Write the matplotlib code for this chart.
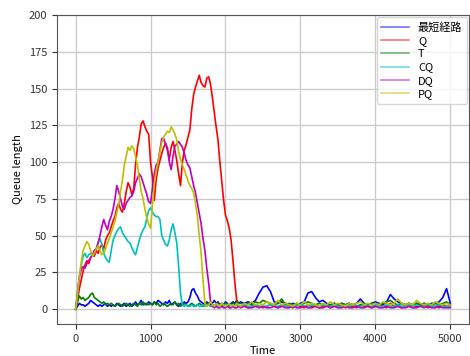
import numpy as np
import matplotlib
matplotlib.use('Agg')
import matplotlib.pyplot as plt

plt.rcParams['font.family'] = ['Noto Sans CJK JP', 'DejaVu Sans']

# sampled every 25 steps up to 2175, then every 50 steps
time = np.concatenate([np.arange(0, 2200, 25), np.arange(2200, 5001, 50)])

shortest = [0, 2, 4, 3, 3, 2, 3, 4, 6, 5,
            4, 3, 2, 3, 2, 3, 4, 2, 3, 2,
            3, 2, 4, 3, 2, 3, 4, 2, 3, 4,
            2, 3, 5, 3, 4, 6, 3, 4, 3, 5,
            4, 3, 5, 4, 6, 5, 4, 3, 5, 4,
            6, 3, 4, 5, 3, 2, 4, 3, 5, 4,
            5, 8, 13, 14, 11, 9, 6, 5, 4, 3,
            5, 4, 3, 4, 6, 4, 5, 3, 4, 3,
            5, 4, 3, 4, 5, 4, 6, 4,
            # from 2200, step 50
            5, 4, 5, 4, 6, 11,
            15, 16, 12, 5, 4, 5, 4, 3, 4, 3,
            4, 5, 11, 12, 8, 5, 6, 4, 3, 4,
            3, 4, 3, 4, 3, 4, 7, 4, 3, 4,
            5, 4, 3, 5, 10, 7, 5, 4, 3, 4,
            3, 4, 3, 4, 3, 4, 4, 5, 8, 14,
            4]
q = [0, 6, 14, 20, 26, 30, 33, 31, 35, 37,
     36, 40, 38, 42, 44, 41, 47, 50, 52, 56,
     60, 63, 69, 72, 68, 66, 72, 80, 86, 83,
     78, 82, 98, 110, 117, 126, 128, 124, 121, 119,
     100, 90, 74, 88, 96, 101, 106, 110, 113, 108,
     102, 110, 114, 108, 101, 92, 84, 100, 108, 112,
     117, 122, 136, 146, 151, 155, 159, 154, 152, 151,
     157, 158, 153, 144, 134, 124, 115, 100, 87, 74,
     64, 60, 55, 47, 33, 18, 6, 2,
     2, 3, 1, 2, 3, 2,
     1, 2, 3, 2, 1, 2, 4, 2, 1, 3,
     2, 1, 3, 2, 2, 1, 2, 3, 1, 2,
     2, 3, 1, 2, 2, 1, 3, 2, 2, 1,
     2, 3, 2, 1, 4, 2, 2, 1, 3, 2,
     1, 2, 2, 3, 1, 2, 2, 1, 3, 2,
     2]
t = [0, 5, 9, 7, 8, 6, 7, 8, 10, 11,
     8, 7, 6, 5, 4, 5, 3, 4, 3, 4,
     3, 2, 3, 4, 3, 2, 3, 4, 3, 2,
     3, 4, 3, 2, 4, 3, 5, 3, 4, 3,
     4, 3, 5, 3, 4, 2, 3, 4, 3, 2,
     3, 4, 3, 5, 3, 4, 2, 3, 4, 3,
     2, 3, 4, 3, 2, 3, 4, 3, 2, 3,
     4, 3, 5, 3, 2, 3, 4, 3, 2, 3,
     4, 3, 2, 3, 4, 3, 5, 4,
     4, 3, 4, 3, 5, 4,
     6, 5, 4, 3, 4, 7, 3, 4, 3, 4,
     3, 4, 5, 4, 3, 4, 3, 2, 3, 4,
     3, 4, 3, 4, 3, 2, 3, 4, 3, 4,
     4, 3, 4, 5, 6, 4, 3, 4, 3, 4,
     3, 4, 3, 4, 3, 3, 4, 3, 4, 5,
     3]
cq = [0, 12, 22, 30, 36, 38, 35, 37, 38, 36,
      40, 41, 45, 48, 44, 38, 35, 33, 32, 40,
      47, 50, 53, 55, 56, 52, 50, 48, 46, 45,
      42, 39, 37, 42, 47, 51, 54, 56, 62, 67,
      69, 66, 64, 63, 63, 61, 50, 47, 44, 43,
      47, 54, 58, 52, 45, 29, 11, 3, 2, 3,
      2, 2, 3, 2, 2, 3, 2, 2, 3, 2,
      2, 3, 2, 2, 3, 2, 2, 3, 2, 2,
      3, 2, 2, 3, 2, 2, 3, 2,
      2, 3, 2, 2, 3, 2,
      2, 2, 3, 2, 2, 3, 2, 2, 3, 2,
      3, 2, 2, 3, 2, 2, 3, 2, 2, 3,
      2, 2, 3, 2, 3, 2, 2, 3, 2, 2,
      3, 2, 2, 3, 2, 2, 3, 2, 2, 3,
      2, 3, 2, 2, 3, 2, 2, 3, 2, 2,
      2]
dq = [0, 10, 22, 27, 29, 28, 31, 33, 35, 37,
      40, 41, 45, 50, 56, 61, 57, 54, 60, 63,
      68, 75, 84, 80, 75, 70, 68, 72, 74, 76,
      77, 80, 86, 89, 92, 90, 86, 82, 78, 73,
      72, 82, 92, 98, 100, 108, 116, 116, 112, 110,
      100, 95, 104, 111, 112, 114, 112, 110, 106, 101,
      98, 96, 90, 84, 79, 72, 65, 58, 48, 40,
      28, 18, 5, 2, 1, 2, 1, 1, 2, 1,
      1, 2, 1, 1, 2, 1, 1, 2,
      1, 2, 1, 1, 2, 1,
      2, 1, 1, 2, 1, 2, 1, 1, 2, 1,
      1, 2, 1, 1, 2, 1, 1, 2, 1, 2,
      1, 1, 2, 1, 1, 2, 1, 1, 2, 1,
      2, 1, 1, 2, 1, 1, 2, 1, 1, 2,
      1, 1, 2, 1, 2, 1, 1, 2, 1, 1,
      1]
pq = [0, 10, 22, 32, 40, 43, 46, 44, 40, 36,
      38, 41, 43, 40, 37, 38, 41, 45, 48, 52,
      56, 60, 66, 71, 80, 88, 98, 104, 110, 108,
      111, 109, 104, 98, 89, 80, 75, 68, 62, 58,
      55, 70, 85, 94, 100, 107, 113, 117, 119, 121,
      120, 124, 122, 119, 115, 107, 102, 98, 95, 91,
      87, 84, 82, 79, 72, 63, 50, 38, 20, 4,
      2, 3, 5, 3, 2, 4, 3, 2, 4, 3,
      2, 3, 4, 2, 3, 2, 4, 3,
      2, 4, 3, 5, 3, 4,
      3, 5, 4, 3, 6, 3, 4, 3, 2, 4,
      3, 5, 3, 4, 3, 2, 4, 3, 5, 3,
      4, 3, 2, 4, 3, 4, 5, 3, 4, 3,
      4, 3, 5, 4, 3, 4, 7, 4, 3, 4,
      3, 6, 4, 3, 4, 3, 5, 4, 3, 4,
      3]

labels = ['最短経路', 'Q', 'T', 'CQ', 'DQ', 'PQ']
colors = ['b', 'r', 'g', 'c', 'm', 'y']
series = [shortest, q, t, cq, dq, pq]

fig = plt.figure(figsize=(4.7, 3.56), dpi=100)
ax = fig.add_axes([0.121, 0.09, 0.877, 0.868])

for vals, lab, col in zip(series, labels, colors):
    ax.plot(time, vals, color=col, label=lab, linewidth=1.2)

ax.set_xlim(-250, 5250)
ax.set_ylim(-10, 200)
ax.set_xticks([0, 1000, 2000, 3000, 4000, 5000])
ax.set_yticks(range(0, 201, 25))
ax.grid(True, color='#cccccc', linewidth=1.0)
ax.set_axisbelow(True)
for sp in ax.spines.values():
    sp.set_color('#555555')
ax.tick_params(labelsize=8, colors='#333333', length=3.5)
ax.set_xlabel('Time', fontsize=8, labelpad=2)
ax.set_ylabel('Queue length', fontsize=8)

leg = ax.legend(loc='upper right', fontsize=8, handlelength=2.5,
                borderaxespad=0.2, labelspacing=0.3)
for h in leg.get_lines():
    h.set_alpha(0.55)

fig.savefig('out.png', dpi=100)
